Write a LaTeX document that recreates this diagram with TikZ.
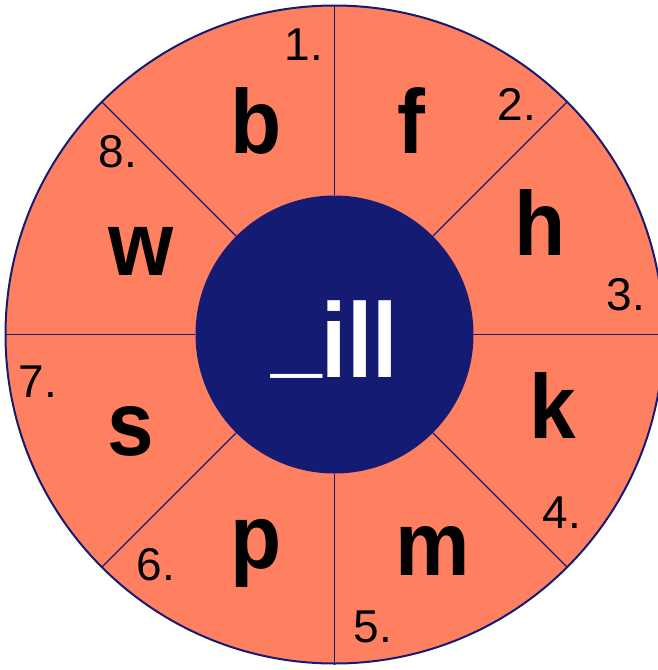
\documentclass[tikz,border=0pt]{standalone}
\usepackage{fontspec}
\setmainfont{Liberation Sans}
\definecolor{coral}{HTML}{FF8060}
\definecolor{navy}{HTML}{151A73}
\newcommand{\narrowtxt}[1]{\scalebox{0.92}[1]{#1}}
\begin{document}
\begin{tikzpicture}[x=1pt,y=-1pt,
  letter/.style={font=\fontsize{91}{91}\selectfont\bfseries, anchor=base, inner sep=0pt},
  num/.style={font=\fontsize{46}{46}\selectfont, anchor=base, inner sep=0pt},
  spoke/.style={draw=navy, line width=1.4pt}]
\useasboundingbox (0,0) rectangle (658,670);
\coordinate (O) at (334.5,334.5);
\node[circle, draw=navy, fill=coral, line width=2pt, minimum size=658pt, inner sep=0pt] (outer) at (O) {};
\node[circle, fill=navy, minimum size=278pt, inner sep=0pt] (inner) at (O) {};
\foreach \a in {0,45,...,315} \draw[spoke] (inner.\a) -- (outer.\a);
\node[anchor=base, inner sep=0pt, text=white, font=\fontsize{106}{106}\selectfont\bfseries] (word) at (334.5,377) {\scalebox{0.86}[1]{\raisebox{12pt}{\_}ill}};
\node[letter] (b) at (256,153) {\narrowtxt{b}};
\node[letter] (f) at (411,153) {\narrowtxt{f}};
\node[letter] (h) at (540,255) {\narrowtxt{h}};
\node[letter] (k) at (553,438) {\narrowtxt{k}};
\node[letter] (m) at (433,575) {\narrowtxt{m}};
\node[letter] (p) at (256,568) {\narrowtxt{p}};
\node[letter] (s) at (131,455) {\narrowtxt{s}};
\node[letter] (w) at (141,275) {\narrowtxt{w}};
\node[num] (n1) at (304,60) {1.};
\node[num] (n2) at (517,120) {2.};
\node[num] (n3) at (626,310) {3.};
\node[num] (n4) at (562,528) {4.};
\node[num] (n5) at (373,642) {5.};
\node[num] (n6) at (156,580) {6.};
\node[num] (n7) at (38,397) {7.};
\node[num] (n8) at (118,167) {8.};
\end{tikzpicture}
\end{document}
